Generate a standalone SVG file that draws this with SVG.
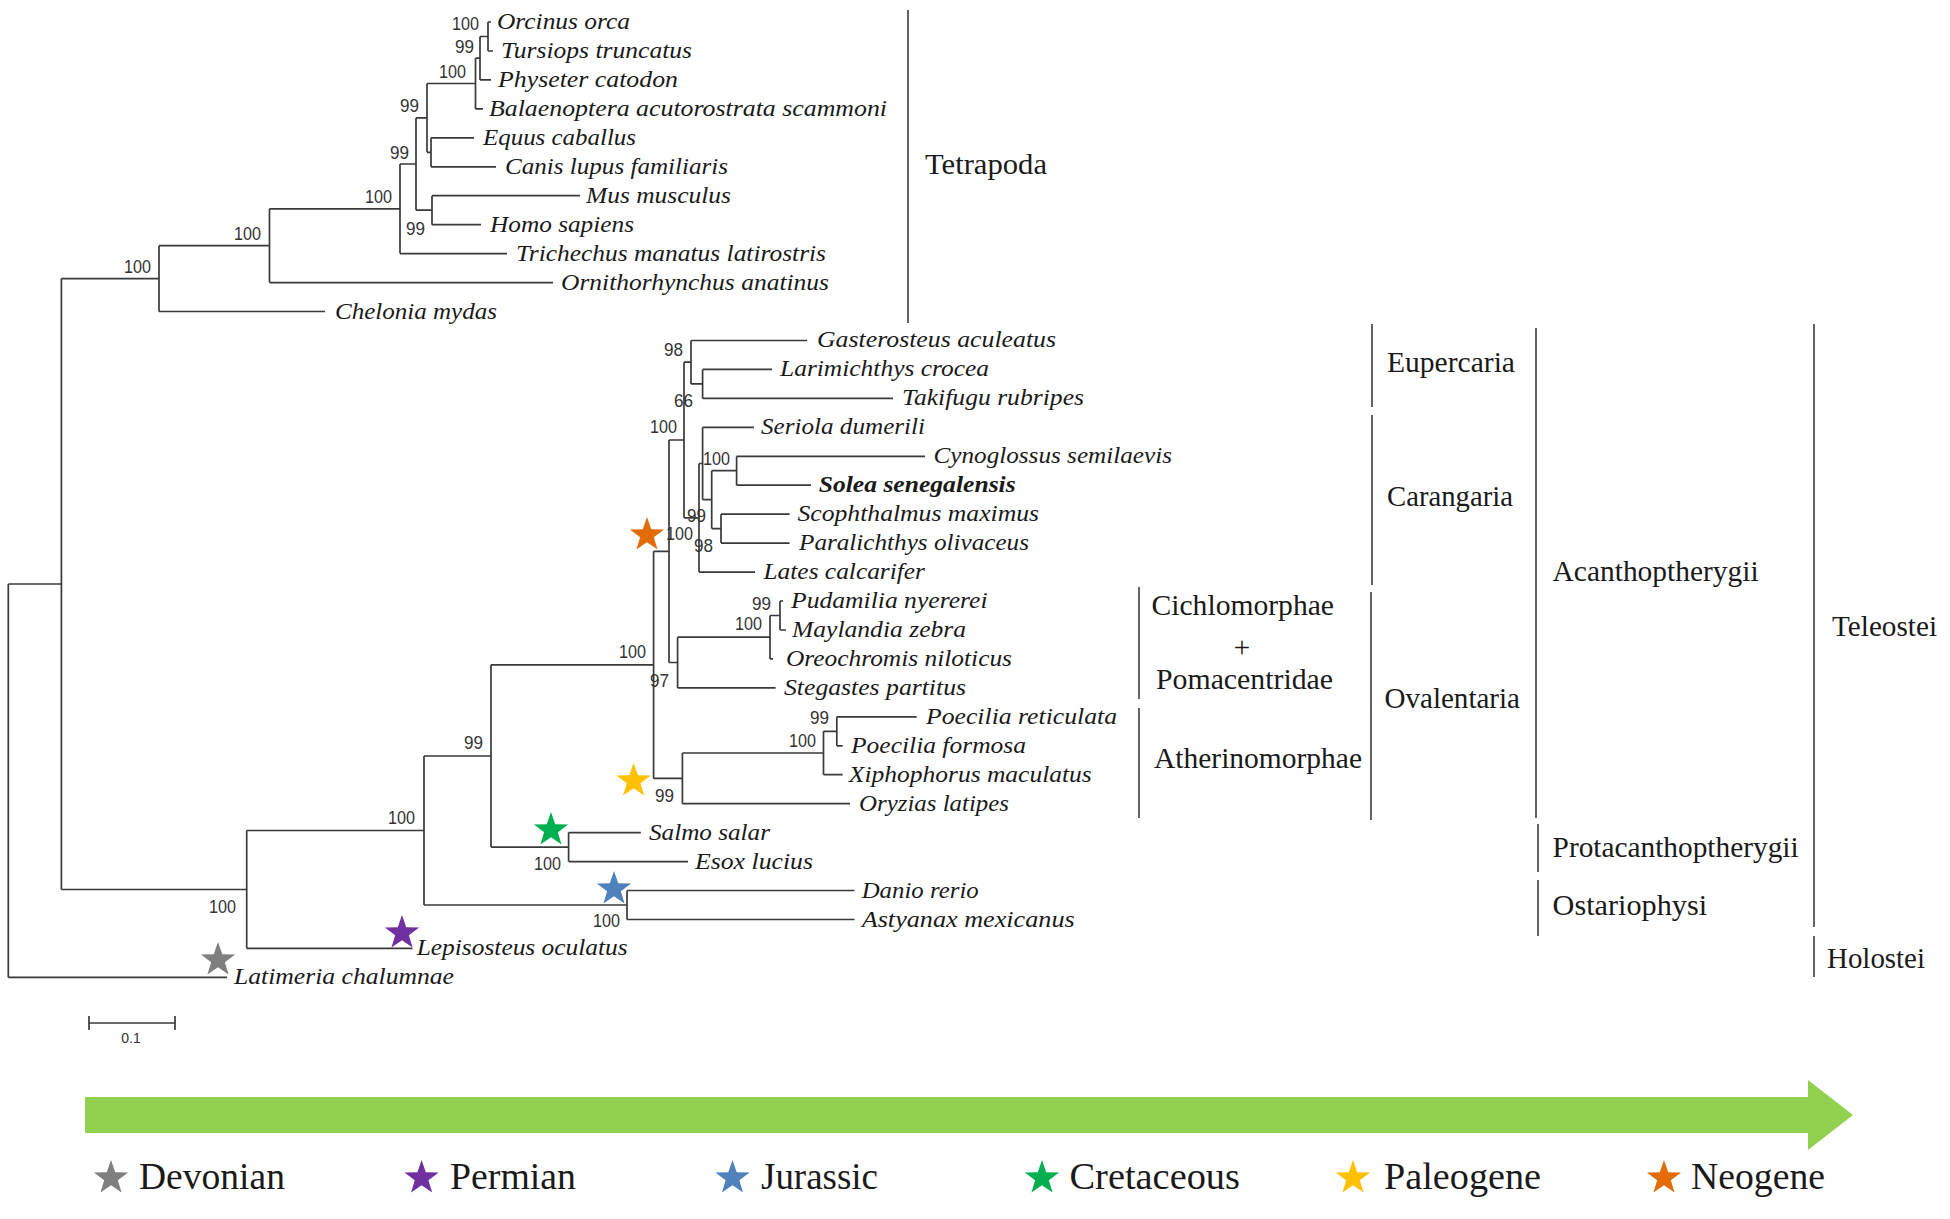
<svg xmlns="http://www.w3.org/2000/svg" width="1950" height="1219" viewBox="0 0 1950 1219">
<defs>
<style>
.ln{fill:none;stroke:#3a3a3a;stroke-width:1.7}
.br{fill:none;stroke:#222;stroke-width:1.4}
.sp{font-family:"Liberation Serif","Times New Roman",serif;font-style:italic;font-size:24px;fill:#1a1a1a}
.bs{font-family:"Liberation Sans",Arial,sans-serif;font-size:18.5px;fill:#333}
.cl{font-family:"Liberation Serif","Times New Roman",serif;font-size:29px;fill:#1a1a1a}
.lg{font-family:"Liberation Serif","Times New Roman",serif;font-size:37px;fill:#1a1a1a}
</style>
<polygon id="star" points="0,-18 4.23,-5.82 17.12,-5.56 6.85,2.22 10.58,14.56 0,7.2 -10.58,14.56 -6.85,2.22 -17.12,-5.56 -4.23,-5.82"/>
</defs>
<rect width="1950" height="1219" fill="#fff"/>

<g id="connectors" class="ln">
<path d="M8.3 584V977.4 M8.3 584H61.4 M8.3 977.4H227"/>
<path d="M61.4 278.6V889.5 M61.4 278.6H159 M61.4 889.5H246.7"/>
<path d="M159 245.7V311.5 M159 245.7H269.5 M159 311.5H325"/>
<path d="M269.5 208.8V282.6 M269.5 208.8H400 M269.5 282.6H553"/>
<path d="M400 164V253.6 M400 164H416 M400 253.6H507"/>
<path d="M416 117.9V210.2 M416 117.9H427 M416 210.2H432"/>
<path d="M427 83.5V152.3 M427 83.5H475.5 M427 152.3H431"/>
<path d="M475.5 58.2V108.9 M475.5 58.2H480 M475.5 108.9H483"/>
<path d="M480 36.5V79.9 M480 36.5H488 M480 79.9H491"/>
<path d="M488 22V51 M488 22H491 M488 51H493"/>
<path d="M431 137.8V166.8 M431 137.8H474 M431 166.8H496"/>
<path d="M432 195.7V224.7 M432 195.7H580 M432 224.7H481"/>
<path d="M246.7 830.5V948.4 M246.7 830.5H424 M246.7 948.4H412.5"/>
<path d="M424 756V905 M424 756H491 M424 905H627"/>
<path d="M627 890.5V919.5 M627 890.5H854.5 M627 919.5H854.5"/>
<path d="M491 664.8V847.1 M491 664.8H653.6 M491 847.1H568.6"/>
<path d="M568.6 832.6V861.6 M568.6 832.6H640.8 M568.6 861.6H688"/>
<path d="M653.6 551.3V778.4 M653.6 551.3H669 M653.6 778.4H682.4"/>
<path d="M682.4 753V803.7 M682.4 753H823.5 M682.4 803.7H850"/>
<path d="M823.5 731.3V774.7 M823.5 731.3H836.8 M823.5 774.7H842.6"/>
<path d="M836.8 716.8V745.8 M836.8 716.8H916.7 M836.8 745.8H842.6"/>
<path d="M669 440V662.5 M669 440H684 M669 662.5H677.6"/>
<path d="M677.6 637.2V687.9 M677.6 637.2H770 M677.6 687.9H775.6"/>
<path d="M770 615.5V658.9 M770 615.5H780 M770 658.9H773"/>
<path d="M780 601V630 M780 601H783 M780 630H786"/>
<path d="M684 362.2V517.8 M684 362.2H691 M684 517.8H699"/>
<path d="M691 340.5V383.9 M691 340.5H807 M691 383.9H702.6"/>
<path d="M702.6 369.4V398.4 M702.6 369.4H772 M702.6 398.4H893"/>
<path d="M699 463.5V572.1 M699 463.5H702.6 M699 572.1H755"/>
<path d="M702.6 427.3V499.7 M702.6 427.3H754 M702.6 499.7H711.7"/>
<path d="M711.7 470.7V528.6 M711.7 470.7H736.6 M711.7 528.6H721"/>
<path d="M736.6 456.3V485.2 M736.6 456.3H925 M736.6 485.2H811"/>
<path d="M721 514.2V543.1 M721 514.2H789.6 M721 543.1H789.6"/>
</g>

<g id="bootstrap" class="bs">
<text x="452" y="29.5" textLength="27" lengthAdjust="spacingAndGlyphs">100</text>
<text x="455" y="52.5" textLength="19" lengthAdjust="spacingAndGlyphs">99</text>
<text x="439" y="77.5" textLength="27" lengthAdjust="spacingAndGlyphs">100</text>
<text x="400" y="111.5" textLength="19" lengthAdjust="spacingAndGlyphs">99</text>
<text x="390" y="158.5" textLength="19" lengthAdjust="spacingAndGlyphs">99</text>
<text x="365" y="202.5" textLength="27" lengthAdjust="spacingAndGlyphs">100</text>
<text x="406" y="234.5" textLength="19" lengthAdjust="spacingAndGlyphs">99</text>
<text x="234" y="239.5" textLength="27" lengthAdjust="spacingAndGlyphs">100</text>
<text x="124" y="272.5" textLength="27" lengthAdjust="spacingAndGlyphs">100</text>
<text x="664" y="355.5" textLength="19" lengthAdjust="spacingAndGlyphs">98</text>
<text x="674" y="406.5" textLength="19" lengthAdjust="spacingAndGlyphs">66</text>
<text x="650" y="432.5" textLength="27" lengthAdjust="spacingAndGlyphs">100</text>
<text x="703" y="464.5" textLength="27" lengthAdjust="spacingAndGlyphs">100</text>
<text x="687" y="521.5" textLength="19" lengthAdjust="spacingAndGlyphs">99</text>
<text x="694" y="551.5" textLength="19" lengthAdjust="spacingAndGlyphs">98</text>
<text x="666" y="539.5" textLength="27" lengthAdjust="spacingAndGlyphs">100</text>
<text x="752" y="609.5" textLength="19" lengthAdjust="spacingAndGlyphs">99</text>
<text x="735" y="629.5" textLength="27" lengthAdjust="spacingAndGlyphs">100</text>
<text x="619" y="657.5" textLength="27" lengthAdjust="spacingAndGlyphs">100</text>
<text x="650" y="686.5" textLength="19" lengthAdjust="spacingAndGlyphs">97</text>
<text x="810" y="723.5" textLength="19" lengthAdjust="spacingAndGlyphs">99</text>
<text x="789" y="746.5" textLength="27" lengthAdjust="spacingAndGlyphs">100</text>
<text x="655" y="801.5" textLength="19" lengthAdjust="spacingAndGlyphs">99</text>
<text x="464" y="748.5" textLength="19" lengthAdjust="spacingAndGlyphs">99</text>
<text x="534" y="869.5" textLength="27" lengthAdjust="spacingAndGlyphs">100</text>
<text x="388" y="823.5" textLength="27" lengthAdjust="spacingAndGlyphs">100</text>
<text x="593" y="926.5" textLength="27" lengthAdjust="spacingAndGlyphs">100</text>
<text x="209" y="912.5" textLength="27" lengthAdjust="spacingAndGlyphs">100</text>
</g>

<g id="n-orcinus"><text class="sp" x="497" y="29" textLength="133" lengthAdjust="spacingAndGlyphs">Orcinus orca</text></g>
<g id="n-tursiops"><text class="sp" x="501" y="58" textLength="191" lengthAdjust="spacingAndGlyphs">Tursiops truncatus</text></g>
<g id="n-physeter"><text class="sp" x="498" y="87" textLength="180" lengthAdjust="spacingAndGlyphs">Physeter catodon</text></g>
<g id="n-balaenoptera"><text class="sp" x="489" y="116" textLength="398" lengthAdjust="spacingAndGlyphs">Balaenoptera acutorostrata scammoni</text></g>
<g id="n-equus"><text class="sp" x="483" y="145" textLength="153" lengthAdjust="spacingAndGlyphs">Equus caballus</text></g>
<g id="n-canis"><text class="sp" x="505" y="174" textLength="223" lengthAdjust="spacingAndGlyphs">Canis lupus familiaris</text></g>
<g id="n-mus"><text class="sp" x="586" y="203" textLength="145" lengthAdjust="spacingAndGlyphs">Mus musculus</text></g>
<g id="n-homo"><text class="sp" x="490" y="232" textLength="144" lengthAdjust="spacingAndGlyphs">Homo sapiens</text></g>
<g id="n-trichechus"><text class="sp" x="516" y="261" textLength="310" lengthAdjust="spacingAndGlyphs">Trichechus manatus latirostris</text></g>
<g id="n-ornithorhynchus"><text class="sp" x="561" y="290" textLength="268" lengthAdjust="spacingAndGlyphs">Ornithorhynchus anatinus</text></g>
<g id="n-chelonia"><text class="sp" x="335" y="319" textLength="162" lengthAdjust="spacingAndGlyphs">Chelonia mydas</text></g>
<g id="n-gasterosteus"><text class="sp" x="817" y="347" textLength="239" lengthAdjust="spacingAndGlyphs">Gasterosteus aculeatus</text></g>
<g id="n-larimichthys"><text class="sp" x="780" y="376" textLength="209" lengthAdjust="spacingAndGlyphs">Larimichthys crocea</text></g>
<g id="n-takifugu"><text class="sp" x="902" y="405" textLength="182" lengthAdjust="spacingAndGlyphs">Takifugu rubripes</text></g>
<g id="n-seriola"><text class="sp" x="761" y="434" textLength="164" lengthAdjust="spacingAndGlyphs">Seriola dumerili</text></g>
<g id="n-cynoglossus"><text class="sp" x="933.5" y="463" textLength="238.5" lengthAdjust="spacingAndGlyphs">Cynoglossus semilaevis</text></g>
<g id="n-solea"><text class="sp" x="818.7" y="492" textLength="197" lengthAdjust="spacingAndGlyphs" font-weight="bold">Solea senegalensis</text></g>
<g id="n-scophthalmus"><text class="sp" x="797.5" y="521" textLength="241.5" lengthAdjust="spacingAndGlyphs">Scophthalmus maximus</text></g>
<g id="n-paralichthys"><text class="sp" x="799" y="550" textLength="230" lengthAdjust="spacingAndGlyphs">Paralichthys olivaceus</text></g>
<g id="n-lates"><text class="sp" x="763.5" y="579" textLength="161.5" lengthAdjust="spacingAndGlyphs">Lates calcarifer</text></g>
<g id="n-pudamilia"><text class="sp" x="791" y="608" textLength="196.5" lengthAdjust="spacingAndGlyphs">Pudamilia nyererei</text></g>
<g id="n-maylandia"><text class="sp" x="792" y="637" textLength="174" lengthAdjust="spacingAndGlyphs">Maylandia zebra</text></g>
<g id="n-oreochromis"><text class="sp" x="786" y="666" textLength="226" lengthAdjust="spacingAndGlyphs">Oreochromis niloticus</text></g>
<g id="n-stegastes"><text class="sp" x="784" y="695" textLength="182" lengthAdjust="spacingAndGlyphs">Stegastes partitus</text></g>
<g id="n-poecilia-r"><text class="sp" x="926" y="724" textLength="191" lengthAdjust="spacingAndGlyphs">Poecilia reticulata</text></g>
<g id="n-poecilia-f"><text class="sp" x="851" y="753" textLength="175" lengthAdjust="spacingAndGlyphs">Poecilia formosa</text></g>
<g id="n-xiphophorus"><text class="sp" x="848.8" y="782" textLength="243" lengthAdjust="spacingAndGlyphs">Xiphophorus maculatus</text></g>
<g id="n-oryzias"><text class="sp" x="859" y="811" textLength="150" lengthAdjust="spacingAndGlyphs">Oryzias latipes</text></g>
<g id="n-salmo"><text class="sp" x="649" y="840" textLength="121" lengthAdjust="spacingAndGlyphs">Salmo salar</text></g>
<g id="n-esox"><text class="sp" x="695" y="869" textLength="118" lengthAdjust="spacingAndGlyphs">Esox lucius</text></g>
<g id="n-danio"><text class="sp" x="861.7" y="898" textLength="117" lengthAdjust="spacingAndGlyphs">Danio rerio</text></g>
<g id="n-astyanax"><text class="sp" x="861.7" y="927" textLength="213" lengthAdjust="spacingAndGlyphs">Astyanax mexicanus</text></g>
<g id="n-lepisosteus"><text class="sp" x="416.7" y="955" textLength="211" lengthAdjust="spacingAndGlyphs">Lepisosteus oculatus</text></g>
<g id="n-latimeria"><text class="sp" x="234" y="984" textLength="220" lengthAdjust="spacingAndGlyphs">Latimeria chalumnae</text></g>

<g id="tree-stars">
<use href="#star" x="647" y="535" fill="#E36C09"/>
<use href="#star" x="633.6" y="781" fill="#FFC000"/>
<use href="#star" x="551" y="830" fill="#00B050"/>
<use href="#star" x="614" y="889" fill="#4F81BD"/>
<use href="#star" x="402" y="933" fill="#7030A0"/>
<use href="#star" x="218" y="960" fill="#7F7F7F"/>
</g>

<g id="c-tetrapoda"><path class="br" d="M908 10V323"/><text class="cl" x="925" y="174" textLength="122" lengthAdjust="spacingAndGlyphs">Tetrapoda</text></g>
<g id="c-eupercaria"><path class="br" d="M1372 324V407"/><text class="cl" x="1387" y="372" textLength="128" lengthAdjust="spacingAndGlyphs">Eupercaria</text></g>
<g id="c-carangaria"><path class="br" d="M1372 415V585"/><text class="cl" x="1387" y="506" textLength="126" lengthAdjust="spacingAndGlyphs">Carangaria</text></g>
<g id="c-ovalentaria"><path class="br" d="M1371 592V820"/><text class="cl" x="1384.5" y="708" textLength="135.5" lengthAdjust="spacingAndGlyphs">Ovalentaria</text></g>
<g id="c-cichlomorphae"><path class="br" d="M1139 587V699"/><text class="cl" x="1151.5" y="615" textLength="182.5" lengthAdjust="spacingAndGlyphs">Cichlomorphae</text><text class="cl" x="1242" y="657" text-anchor="middle" fill="#666" font-size="26">+</text><text class="cl" x="1156" y="689" textLength="177" lengthAdjust="spacingAndGlyphs">Pomacentridae</text></g>
<g id="c-atherinomorphae"><path class="br" d="M1139 708V818"/><text class="cl" x="1154" y="768" textLength="208" lengthAdjust="spacingAndGlyphs">Atherinomorphae</text></g>
<g id="c-acanthopterygii"><path class="br" d="M1536 328V818"/><text class="cl" x="1552.6" y="581" textLength="206" lengthAdjust="spacingAndGlyphs">Acanthoptherygii</text></g>
<g id="c-protacanthopterygii"><path class="br" d="M1538 824V872"/><text class="cl" x="1552.6" y="857" textLength="246" lengthAdjust="spacingAndGlyphs">Protacanthoptherygii</text></g>
<g id="c-ostariophysi"><path class="br" d="M1538 880V936"/><text class="cl" x="1552.6" y="915" textLength="154.5" lengthAdjust="spacingAndGlyphs">Ostariophysi</text></g>
<g id="c-teleostei"><path class="br" d="M1814 324V927"/><text class="cl" x="1832" y="636" textLength="105" lengthAdjust="spacingAndGlyphs">Teleostei</text></g>
<g id="c-holostei"><path class="br" d="M1814 936V977"/><text class="cl" x="1827" y="968" textLength="98" lengthAdjust="spacingAndGlyphs">Holostei</text></g>

<g id="scale-bar">
<path class="ln" d="M89 1023H175 M89 1016V1030 M175 1016V1030" stroke-width="1.4"/>
<text x="131" y="1043" text-anchor="middle" font-family="Liberation Sans, Arial, sans-serif" font-size="14" fill="#333">0.1</text>
</g>

<g id="time-arrow">
<polygon points="85,1097 1808,1097 1808,1080 1853,1115 1808,1150 1808,1133 85,1133" fill="#92D050"/>
</g>

<g id="legend">
<use href="#star" x="111" y="1178" fill="#7F7F7F"/>
<text class="lg" x="139" y="1189" textLength="146" lengthAdjust="spacingAndGlyphs">Devonian</text>
<use href="#star" x="421.6" y="1178" fill="#7030A0"/>
<text class="lg" x="450" y="1189" textLength="126" lengthAdjust="spacingAndGlyphs">Permian</text>
<use href="#star" x="732.5" y="1178" fill="#4F81BD"/>
<text class="lg" x="761" y="1189" textLength="117" lengthAdjust="spacingAndGlyphs">Jurassic</text>
<use href="#star" x="1042" y="1178" fill="#00B050"/>
<text class="lg" x="1069.5" y="1189" textLength="170.5" lengthAdjust="spacingAndGlyphs">Cretaceous</text>
<use href="#star" x="1353" y="1178" fill="#FFC000"/>
<text class="lg" x="1384" y="1189" textLength="157" lengthAdjust="spacingAndGlyphs">Paleogene</text>
<use href="#star" x="1664" y="1178" fill="#E36C09"/>
<text class="lg" x="1691" y="1189" textLength="134" lengthAdjust="spacingAndGlyphs">Neogene</text>
</g>
</svg>
